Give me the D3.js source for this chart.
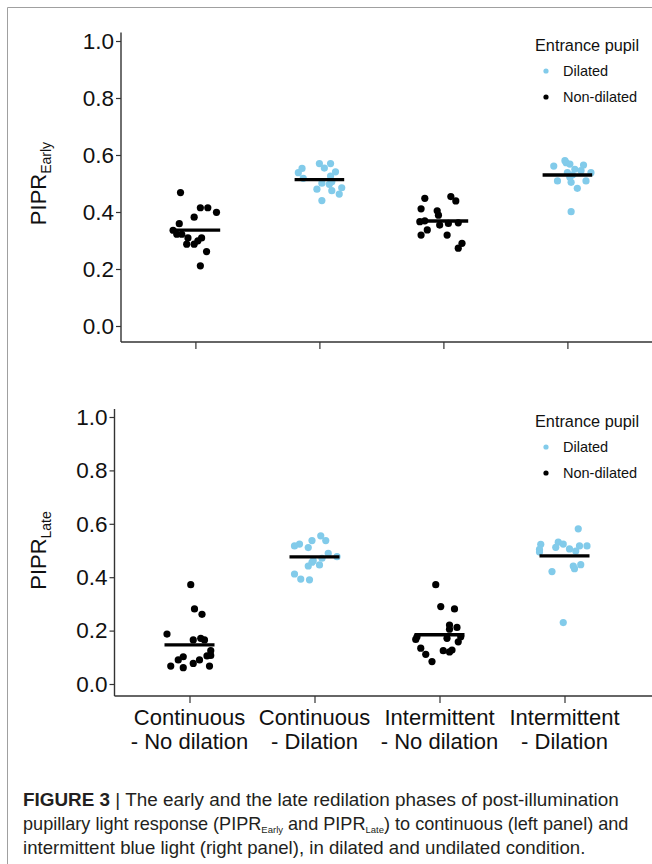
<!DOCTYPE html>
<html>

  <style>
    body {
      margin: 0;
      background: #fff;
    }
    text {
      font-family: "Liberation Sans", Arial, sans-serif;
    }
  </style>

  <body>

    <script src="https://d3js.org/d3.v7.min.js"></script>

    <script type="text/javascript">

        // categories on the x-axis (two lines per label) and pupil condition per category
        var categories = ["Continuous - No dilation", "Continuous - Dilation",
                          "Intermittent - No dilation", "Intermittent - Dilation"];
        var labelLine1 = ["Continuous", "Continuous", "Intermittent", "Intermittent"];
        var labelLine2 = ["- No dilation", "- Dilation", "- No dilation", "- Dilation"];
        var pupil = ["Non-dilated", "Dilated", "Non-dilated", "Dilated"];
        var pupilLevels = ["Dilated", "Non-dilated"];
        var yTicks = [0, 0.2, 0.4, 0.6, 0.8, 1.0];

        // PIPR early, per category
        var earlyContNoDil = [0.468, 0.415, 0.415, 0.399, 0.382, 0.359, 0.336, 0.322, 0.322, 0.309, 0.287, 0.287, 0.299, 0.309, 0.261, 0.211];
        var earlyContDil = [0.553, 0.538, 0.518, 0.570, 0.554, 0.570, 0.541, 0.526, 0.501, 0.497, 0.506, 0.485, 0.475, 0.463, 0.480, 0.440];
        var earlyIntNoDil = [0.448, 0.454, 0.439, 0.411, 0.404, 0.389, 0.366, 0.369, 0.354, 0.360, 0.362, 0.337, 0.319, 0.319, 0.290, 0.273];
        var earlyIntDil = [0.580, 0.573, 0.568, 0.561, 0.565, 0.550, 0.545, 0.538, 0.538, 0.522, 0.509, 0.504, 0.509, 0.483, 0.401, 0.530];

        // horizontal jitter of each point, in category units
        var earlyJitContNoDil = [-0.12, 0.04, 0.10, 0.17, -0.01, -0.13, -0.18, -0.15, -0.11, -0.06, -0.07, -0.01, 0.02, 0.05, 0.09, 0.04];
        var earlyJitContDil = [-0.14, -0.17, -0.13, 0.00, 0.04, 0.09, 0.13, 0.09, 0.02, 0.08, 0.10, 0.18, 0.10, 0.16, -0.02, 0.02];
        var earlyJitIntNoDil = [-0.15, 0.06, 0.10, -0.18, -0.05, -0.04, -0.19, -0.15, -0.03, 0.04, 0.12, -0.13, -0.18, 0.03, 0.15, 0.12];
        var earlyJitIntDil = [-0.02, -0.01, 0.02, -0.11, 0.13, 0.06, 0.11, 0.00, 0.19, 0.02, -0.08, 0.03, 0.15, 0.08, 0.03, 0.04];

        // PIPR late, per category
        var lateContNoDil = [0.372, 0.281, 0.261, 0.187, 0.165, 0.171, 0.165, 0.125, 0.107, 0.105, 0.102, 0.090, 0.090, 0.077, 0.067, 0.061, 0.067];
        var lateContDil = [0.555, 0.537, 0.537, 0.524, 0.517, 0.511, 0.489, 0.477, 0.471, 0.462, 0.456, 0.446, 0.442, 0.412, 0.393, 0.390];
        var lateIntNoDil = [0.372, 0.290, 0.281, 0.221, 0.212, 0.205, 0.177, 0.167, 0.171, 0.177, 0.158, 0.134, 0.125, 0.127, 0.120, 0.111, 0.084];
        var lateIntDil = [0.581, 0.523, 0.531, 0.524, 0.512, 0.517, 0.517, 0.506, 0.498, 0.504, 0.494, 0.442, 0.447, 0.432, 0.421, 0.230];

        var lateJitContNoDil = [0.01, 0.04, 0.10, -0.18, 0.03, 0.09, 0.12, 0.17, 0.17, 0.14, -0.05, -0.09, 0.08, 0.03, -0.15, -0.05, 0.16];
        var lateJitContDil = [0.05, 0.09, -0.02, -0.12, -0.16, -0.05, 0.11, 0.18, 0.06, -0.01, -0.02, 0.04, -0.05, -0.16, -0.11, -0.04];
        var lateJitIntNoDil = [-0.03, 0.01, 0.12, 0.08, 0.14, 0.08, -0.18, -0.19, 0.06, 0.17, 0.15, -0.15, 0.03, 0.10, 0.08, -0.11, -0.06];
        var lateJitIntDil = [0.11, -0.19, -0.05, -0.01, -0.07, 0.12, 0.18, 0.04, 0.09, -0.20, -0.20, 0.07, 0.13, 0.08, -0.10, -0.01];

        var w = 652;
        var h = 864;
        var blue = "#82cbea";
        var color = d3.scaleOrdinal().domain(pupilLevels).range([blue, "#000"]);

        var svg = d3.select("body")
          .append("svg")
          .attr("width", w)
          .attr("height", h);

        svg.append("rect")
           .attr("width", w)
           .attr("height", h)
           .attr("fill", "#fff");

        // figure frame (open on the right)
        svg.append("path")
           .attr("d", "M7.5," + h + "V7.5H" + w)
           .attr("fill", "none")
           .attr("stroke", "#a0a0a0")
           .attr("stroke-width", 1);

        function drawPanel(p) {

          var g = svg.append("g");

          // x: categories, ggplot-like expansion of 0.6 step
          var xScale = d3.scalePoint()
                         .domain(categories)
                         .range([p.left, p.left + p.step * 4.2])
                         .padding(0.6);

          var jitter = d3.scaleLinear()
                         .domain([0, 1])
                         .range([0, xScale.step()]);

          var yScale = d3.scaleLinear()
                         .domain([0, 1])
                         .range([p.y0, p.y1]);

          // y-axis
          var yAxis = d3.axisLeft(yScale)
                        .tickValues(yTicks)
                        .tickFormat(d3.format(".1f"))
                        .tickSize(5)
                        .tickSizeOuter(0);

          var ya = g.append("g")
                    .attr("transform", "translate(" + p.left + ",0)")
                    .call(yAxis);
          ya.select(".domain").remove();
          ya.selectAll(".tick line").attr("stroke", "#333").attr("stroke-width", 1.2);
          ya.selectAll(".tick text")
            .attr("font-size", 22.5)
            .attr("fill", "#111")
            .attr("x", -7)
            .style("font-family", "'Liberation Sans', Arial, sans-serif");

          g.append("line")
           .attr("x1", p.left).attr("x2", p.left)
           .attr("y1", yScale(p.ymax)).attr("y2", yScale(p.ymin))
           .attr("stroke", "#333")
           .attr("stroke-width", 1.4);

          // x-axis
          var xAxis = d3.axisBottom(xScale)
                        .tickSize(7)
                        .tickSizeOuter(0)
                        .tickFormat("");

          var xa = g.append("g")
                    .attr("transform", "translate(0," + yScale(p.ymin) + ")")
                    .call(xAxis);
          xa.select(".domain").remove();
          xa.selectAll(".tick line").attr("stroke", "#333").attr("stroke-width", 1.2);

          g.append("line")
           .attr("x1", p.left).attr("x2", w)
           .attr("y1", yScale(p.ymin)).attr("y2", yScale(p.ymin))
           .attr("stroke", "#333")
           .attr("stroke-width", 1.6);

          if (p.labels) {
            var lab = g.append("g")
                       .selectAll("text")
                       .data(categories)
                       .enter()
                       .append("text")
                       .attr("x", function(d) { return xScale(d); })
                       .attr("y", yScale(p.ymin) + 29)
                       .attr("text-anchor", "middle")
                       .attr("font-size", 22)
                       .attr("fill", "#111");
            lab.append("tspan")
               .text(function(d, i) { return labelLine1[i]; });
            lab.append("tspan")
               .attr("x", function(d) { return xScale(d); })
               .attr("dy", 24)
               .text(function(d, i) { return labelLine2[i]; });
          }

          // points and mean lines
          categories.forEach(function(cat, i) {
            var pts = p.values[i].map(function(v, j) {
              return {value: v, jit: p.jitter[i][j]};
            });

            g.append("g")
             .selectAll("circle")
             .data(pts)
             .enter()
             .append("circle")
             .attr("cx", function(d) { return xScale(cat) + jitter(d.jit); })
             .attr("cy", function(d) { return yScale(d.value); })
             .attr("r", 3.6)
             .attr("fill", color(pupil[i]));

            var m = d3.mean(p.values[i]);
            g.append("line")
             .attr("x1", xScale(cat) - jitter(0.2))
             .attr("x2", xScale(cat) + jitter(0.2))
             .attr("y1", yScale(m))
             .attr("y2", yScale(m))
             .attr("stroke", "#000")
             .attr("stroke-width", 3.4);
          });

          // y title with subscript
          var yt = g.append("text")
                    .attr("transform", "translate(" + p.titleX + "," + ((p.y0 + p.y1) / 2) + ") rotate(-90)")
                    .attr("text-anchor", "middle")
                    .attr("font-size", 22)
                    .attr("fill", "#111");
          yt.append("tspan").text("PIPR");
          yt.append("tspan")
            .attr("font-size", 14)
            .attr("dy", 5)
            .text(p.sub);

          // legend
          var lg = g.append("g")
                    .attr("transform", "translate(535," + p.legendY + ")");
          lg.append("text")
            .attr("y", 6)
            .attr("font-size", 16.3)
            .attr("fill", "#111")
            .text("Entrance pupil");
          var items = lg.selectAll(".key")
                        .data(pupilLevels)
                        .enter()
                        .append("g")
                        .attr("class", "key")
                        .attr("transform", function(d, i) { return "translate(0," + (26 + i * 26) + ")"; });
          items.append("circle")
               .attr("cx", 11)
               .attr("r", 2.6)
               .attr("fill", function(d) { return color(d); });
          items.append("text")
               .attr("x", 28)
               .attr("y", 5)
               .attr("font-size", 14.5)
               .attr("fill", "#111")
               .text(function(d) { return d; });
        }

        drawPanel({
          left: 121, step: 124, y0: 326, y1: 41, ymin: -0.056, ymax: 1.03,
          values: [earlyContNoDil, earlyContDil, earlyIntNoDil, earlyIntDil],
          jitter: [earlyJitContNoDil, earlyJitContDil, earlyJitIntNoDil, earlyJitIntDil],
          sub: "Early", titleX: 46, legendY: 45, labels: false
        });

        drawPanel({
          left: 114.5, step: 125, y0: 684, y1: 417, ymin: -0.045, ymax: 1.03,
          values: [lateContNoDil, lateContDil, lateIntNoDil, lateIntDil],
          jitter: [lateJitContNoDil, lateJitContDil, lateJitIntNoDil, lateJitIntDil],
          sub: "Late", titleX: 46, legendY: 421, labels: true
        });

        // caption
        var cap = svg.append("text")
                     .attr("x", 23)
                     .attr("y", 806)
                     .attr("font-size", 18.9)
                     .attr("fill", "#231f20");
        cap.append("tspan").attr("font-weight", "bold").text("FIGURE 3");
        cap.append("tspan").text(" | The early and the late redilation phases of post-illumination");

        var cap2 = svg.append("text")
                      .attr("x", 23)
                      .attr("y", 830)
                      .attr("font-size", 18.1)
                      .attr("fill", "#231f20");
        cap2.append("tspan").text("pupillary light response (PIPR");
        cap2.append("tspan").attr("font-size", 9.5).attr("dy", 3).text("Early");
        cap2.append("tspan").attr("dy", -3).text(" and PIPR");
        cap2.append("tspan").attr("font-size", 9.5).attr("dy", 3).text("Late");
        cap2.append("tspan").attr("dy", -3).text(") to continuous (left panel) and");

        svg.append("text")
           .attr("x", 23)
           .attr("y", 854)
           .attr("font-size", 18.6)
           .attr("fill", "#231f20")
           .text("intermittent blue light (right panel), in dilated and undilated condition.");

    </script>

  </body>

</html>
